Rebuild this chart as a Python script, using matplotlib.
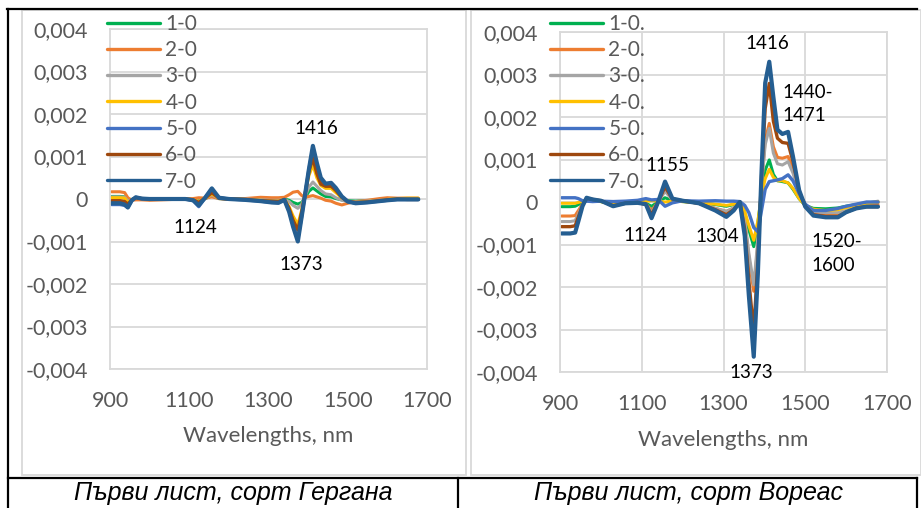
import matplotlib
matplotlib.use("Agg")
import matplotlib.pyplot as plt
import numpy as np
from matplotlib.lines import Line2D
from matplotlib.patches import Rectangle
from matplotlib.ticker import FuncFormatter

# wavelengths (nm) shared by both panels
wavelengths = [904, 925, 937, 945, 955, 965, 980, 1000, 1030, 1060, 1090, 1110, 1124,
               1140, 1157, 1175, 1200, 1240, 1280, 1307, 1325, 1340, 1352, 1362, 1374,
               1384, 1393, 1402, 1412, 1422, 1432, 1444, 1458, 1470, 1485, 1500, 1520,
               1550, 1580, 1600, 1625, 1650, 1678]

# values in units of 1e-4 (second derivative)
gergana = {
    "1-0": [0.6, 0.6, 0.5, -0.2, -0.1, 0.2, 0.1, 0, 0, 0, 0, -0.1, -0.3,
            0.1, 0.8, 0.1, 0, 0, -0.1, -0.2, -0.2, 0, -0.3, -0.8, -1.2,
            -0.8, 0.4, 1.8, 2.6, 1.9, 1.2, 0.6, 0.5, 0.1, -0.2, -0.4, -0.5,
            -0.4, -0.2, 0, 0.1, 0.1, 0.1],
    "2-0": [1.7, 1.7, 1.5, 0.3, -0.3, -0.2, -0.2, -0.3, -0.2, -0.1, 0, 0.1, 0.3,
            0.2, 0.5, 0.1, -0.1, 0.1, 0.4, 0.3, 0.3, 0.4, 1.0, 1.6, 1.8,
            0.8, 0.4, 0.6, 0.8, 0.5, 0.2, -0.3, -0.5, -1.0, -1.4, -1.0, -0.6,
            -0.3, 0.1, 0.3, 0.2, 0.2, 0.2],
    "3-0": [0.5, 0.5, 0.4, -0.5, -0.2, 0.2, 0.1, 0, 0, 0, 0, -0.2, -0.5,
            0.1, 1.0, 0.1, 0, 0, -0.2, -0.3, -0.3, -0.1, -0.6, -1.5, -2.2,
            -1.2, 0.8, 2.8, 4.0, 3.0, 2.0, 1.2, 1.0, 0.3, -0.3, -0.6, -0.6,
            -0.5, -0.3, -0.1, 0, 0, 0],
    "4-0": [0.3, 0.3, 0.2, -0.8, -0.2, 0.3, 0.1, 0, 0, 0, 0, -0.2, -0.6,
            0.2, 1.2, 0.2, 0, -0.1, -0.3, -0.5, -0.5, -0.1, -1.8, -4.0, -6.0,
            -2.5, 1.5, 5.5, 8.0, 5.0, 3.2, 2.5, 2.5, 1.5, 0.3, -0.5, -0.8,
            -0.6, -0.4, -0.1, 0.1, 0.2, 0.2],
    "5-0": [-1.3, -1.3, -1.5, -2.0, -0.4, 0.4, 0.1, 0, 0, 0, 0, -0.4, -1.8,
            0.3, 2.2, 0.3, 0, -0.2, -0.5, -0.8, -0.9, -0.2, -2.8, -6.2, -9.5,
            -4.0, 1.5, 7.0, 12.0, 8.0, 4.5, 3.2, 3.3, 2.3, 0.5, -0.6, -1.0,
            -0.8, -0.5, -0.3, -0.1, -0.1, -0.1],
    "6-0": [-0.4, -0.4, -0.6, -1.2, -0.2, 0.3, 0.1, 0, 0, 0, 0, -0.2, -0.8,
            0.2, 1.5, 0.2, 0, -0.1, -0.4, -0.5, -0.6, -0.1, -2.2, -5.0, -7.3,
            -3.0, 1.5, 6.5, 9.6, 6.0, 3.5, 3.0, 3.0, 2.0, 0.4, -0.6, -0.8,
            -0.7, -0.4, -0.2, 0, -0.1, -0.1],
    "7-0": [-1.0, -1.0, -1.3, -2.0, -0.3, 0.4, 0.1, 0, 0, 0, 0, -0.3, -1.5,
            0.3, 2.5, 0.3, 0, -0.2, -0.5, -0.8, -0.9, -0.2, -3.0, -6.5, -10.0,
            -4.0, 1.5, 7.0, 12.5, 8.5, 5.0, 3.6, 3.8, 2.6, 0.6, -0.6, -1.0,
            -0.8, -0.5, -0.3, -0.1, -0.1, -0.1],
}

voreas = {
    "1-0.": [-1.1, -1.1, -1.0, -0.6, -0.1, 0.5, 0.3, 0.1, -0.5, -0.1, 0, -0.3, -1.0,
             0, 1.0, 0.3, 0.1, -0.2, -0.6, -1.0, -0.6, 0, -2.5, -6.5, -10.5,
             -5.0, 2.0, 7.5, 9.9, 6.5, 5.0, 4.8, 4.5, 3.0, 0.8, -0.8, -1.5,
             -1.6, -1.4, -1.0, -0.6, -0.2, 0],
    "2-0.": [-3.3, -3.3, -3.2, -2.0, -0.5, 0.8, 0.5, 0.2, -0.8, -0.2, -0.1, -0.4, -2.0,
             0, 3.0, 0.6, 0.2, -0.3, -1.5, -2.2, -1.4, 0, -4.5, -13.0, -21.0,
             -10.0, 4.0, 14.5, 18.5, 13.0, 10.5, 10.3, 10.7, 7.5, 2.2, -0.8, -2.6,
             -3.0, -3.0, -2.4, -1.5, -0.8, -0.5],
    "3-0.": [-4.6, -4.6, -4.4, -2.8, -0.7, 0.8, 0.5, 0.2, -0.8, -0.2, -0.1, -0.5, -2.5,
             0, 2.5, 0.5, 0.2, -0.3, -1.5, -2.2, -1.4, 0, -4.2, -12.0, -19.5,
             -9.0, 4.0, 13.5, 17.3, 11.5, 9.0, 8.7, 9.5, 6.8, 2.0, -0.8, -2.3,
             -2.5, -2.5, -2.0, -1.0, -0.3, 0.2],
    "4-0.": [-0.3, -0.3, -0.3, -0.1, 0.2, 0.5, 0.3, 0.1, -0.4, -0.1, 0, 0.2, 0.3,
             0.2, 0, 0.2, 0.1, -0.2, -0.5, -0.8, -0.5, 0, -2.2, -5.5, -9.0,
             -4.5, 1.5, 5.5, 7.7, 5.8, 5.0, 5.0, 4.5, 3.2, 0.8, -0.8, -1.7,
             -2.0, -1.8, -1.3, -0.7, -0.3, 0],
    "5-0.": [1.0, 1.0, 1.0, 0.8, 0.3, 0.2, 0.1, 0.2, 0.1, 0.2, 0.4, 0.8, 0.5,
             0.6, -1.0, -0.2, 0.3, 0.2, 0.3, 0.2, 0.2, 0.1, -0.8, -2.5, -6.0,
             -7.0, -2.0, 3.0, 4.8, 5.0, 5.2, 5.5, 6.4, 5.0, 2.0, -0.5, -2.0,
             -2.0, -1.5, -1.0, -0.5, 0, 0],
    "6-0.": [-5.8, -5.8, -5.6, -3.5, -0.8, 0.9, 0.6, 0.3, -0.9, -0.3, -0.1, -0.6, -3.0,
             0, 3.6, 0.7, 0.3, -0.3, -1.8, -3.0, -1.8, 0, -6.5, -18.5, -30.5,
             -14.0, 6.0, 22.0, 27.9, 19.0, 15.0, 14.0, 13.8, 9.5, 2.5, -1.0, -3.0,
             -3.4, -3.4, -2.4, -1.4, -1.1, -1.1],
    "7-0.": [-7.4, -7.4, -7.2, -4.5, -1.0, 1.0, 0.6, 0.3, -1.0, -0.3, -0.2, -0.5, -3.8,
             0, 4.8, 0.8, 0.3, -0.3, -2.0, -3.5, -2.0, 0, -8.0, -22.0, -36.4,
             -17.0, 7.0, 28.0, 33.0, 24.7, 17.0, 16.0, 16.5, 10.7, 2.8, -1.1, -3.2,
             -3.6, -3.6, -2.4, -1.5, -1.1, -1.1],
}

series_colors = ["#00B050", "#ED7D31", "#A5A5A5", "#FFC000", "#4472C4", "#9E480E", "#255E91"]
series_widths = [2.2, 2.2, 2.2, 2.2, 2.4, 2.4, 3.0]

gergana_notes = [("1416", 1420, 0.00167, "center"), ("1124", 1115, -0.00068, "center"),
                 ("1373", 1382, -0.00153, "center")]
voreas_notes = [("1416", 1408, 0.00374, "center"), ("1440-\n1471", 1445, 0.0023, "left"),
                ("1155", 1164, 0.00085, "center"), ("1124", 1108, -0.00078, "center"),
                ("1304", 1284, -0.00082, "center"), ("1520-\n1600", 1516, -0.00121, "left"),
                ("1373", 1367, -0.00402, "center")]

captions = ["Първи лист, сорт Гергана", "Първи лист, сорт Вореас"]

W, H = 921, 508
GRAY_TXT = "#595959"
GRID = "#D9D9D9"
FONT = "Lato"


def fmt(v, pos):
    if abs(v) < 1e-12:
        return "0"
    return f"{v:.3f}".replace(".", ",")


def draw_panel(ax, data, notes, vgrid, legend_x):
    x = np.array(wavelengths)
    for (name, vals), c, lw in zip(data.items(), series_colors, series_widths):
        ax.plot(x, np.array(vals) * 1e-4, color=c, lw=lw, label=name,
                solid_joinstyle="round", solid_capstyle="round")
    ax.set_xlim(900, 1700)
    ax.set_ylim(-0.004, 0.004)
    ax.set_xticks(range(900, 1701, 200))
    ax.set_yticks(np.arange(-0.004, 0.0041, 0.001))
    ax.yaxis.set_major_formatter(FuncFormatter(fmt))
    ax.grid(axis="y", color=GRID, lw=1.3)
    if vgrid:
        ax.grid(axis="x", color=GRID, lw=1.3)
    ax.set_axisbelow(True)
    for s in ax.spines.values():
        s.set_color(GRID)
        s.set_linewidth(1.3)
    ax.tick_params(length=0, pad=16, labelsize=15.5, labelcolor=GRAY_TXT)
    for lab in ax.get_xticklabels() + ax.get_yticklabels():
        lab.set_fontfamily(FONT)
    ax.set_xlabel("Wavelengths, nm", fontsize=16, color=GRAY_TXT, family=FONT, labelpad=11)
    for txt, nx, ny, ha in notes:
        ax.text(nx, ny, txt, ha=ha, va="center", fontsize=13.5, family=FONT,
                color="black", linespacing=1.45, clip_on=False)
    leg = ax.legend(loc="upper left", bbox_to_anchor=legend_x, bbox_transform=ax.figure.transFigure,
                    frameon=False, handlelength=2.55, handletextpad=0.25,
                    labelspacing=0.3, borderpad=0, borderaxespad=0,
                    prop={"family": FONT, "size": 15})
    for t in leg.get_texts():
        t.set_color(GRAY_TXT)
    for h in leg.get_lines():
        h.set_linewidth(2.4)


fig = plt.figure(figsize=(W / 100, H / 100), dpi=100)

# chart areas (light gray frames)
for x0, x1 in [(22, 466), (471, 921)]:
    fig.add_artist(Rectangle((x0 / W, 1 - 475 / H), (x1 - x0) / W, (475 - 10) / H,
                             transform=fig.transFigure, fill=False, ec=GRID, lw=1.3))

ax1 = fig.add_axes([110 / W, 1 - 369 / H, (427 - 110) / W, (369 - 29) / H])
ax2 = fig.add_axes([560 / W, 1 - 372 / H, (887 - 560) / W, (372 - 32) / H])
draw_panel(ax1, gergana, gergana_notes, False, (107 / W, 1 - 14 / H))
draw_panel(ax2, voreas, voreas_notes, True, (550 / W, 1 - 14 / H))

# table borders
def fline(x0, y0, x1, y1):
    fig.add_artist(Line2D([x0 / W, x1 / W], [1 - y0 / H, 1 - y1 / H],
                          transform=fig.transFigure, color="black", lw=1.6))

fline(7, 9, 917, 9)
fline(8, 9, 8, 508)
fline(8, 478, 917, 478)
fline(458, 478, 458, 508)
fline(917, 478, 917, 508)

for cx, cap in zip([233, 688], captions):
    fig.text(cx / W, 1 - 500 / H, cap, ha="center", va="baseline", fontsize=18,
             style="italic", family="Liberation Sans", color="black")

fig.savefig("out.png", dpi=100)
